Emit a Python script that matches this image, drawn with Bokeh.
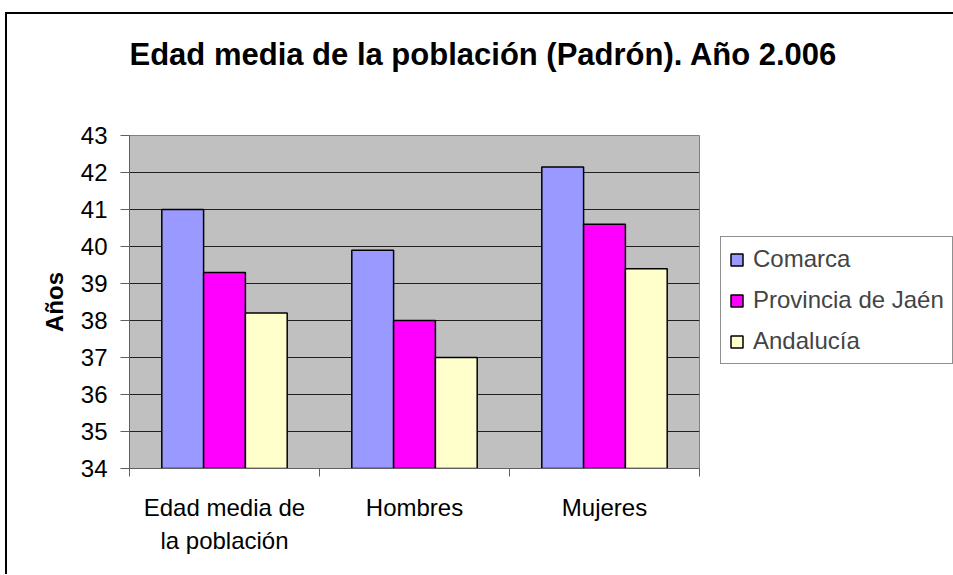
from bokeh.plotting import figure
from bokeh.models import (Range1d, FixedTicker, Legend, LegendItem, Title, ColumnDataSource)
from bokeh.transform import dodge
from bokeh.embed import file_html
from bokeh.resources import INLINE

categories = ["Edad media de\nla población", "Hombres", "Mujeres"]
series_names = ["Comarca", "Provincia de Jaén", "Andalucía"]
comarca = [41.0, 39.9, 42.15]
provincia = [39.3, 38.0, 40.6]
andalucia = [38.2, 37.0, 39.4]
colors = ["#9999FF", "#FF00FF", "#FFFFCC"]
y_ticks = [34, 35, 36, 37, 38, 39, 40, 41, 42, 43]
title_text = "Edad media de la población (Padrón). Año 2.006"
y_label = "Años"

FONT = "Liberation Sans"

centers = [i + 0.5 for i in range(len(categories))]
bounds = [float(i) for i in range(len(categories) + 1)]
src = ColumnDataSource(dict(x=centers, comarca=comarca, provincia=provincia, andalucia=andalucia))

p = figure(frame_width=570, frame_height=333, output_backend="svg", toolbar_location=None,
           x_range=Range1d(0, 3), y_range=Range1d(34, 43),
           min_border_left=122, min_border_right=253, min_border_top=121, min_border_bottom=106,
           background_fill_color="#C0C0C0", border_fill_color="white")
p.styles = {"margin-left": "5px", "margin-top": "12px",
            "border-top": "2px solid black", "border-left": "2px solid black"}
p.outline_line_color = "#808080"
p.outline_line_width = 1

bw = 0.22
offsets = [-bw, 0.0, bw]
fields = ["comarca", "provincia", "andalucia"]
renderers = []
for f, off, c in zip(fields, offsets, colors):
    r = p.vbar(x=dodge("x", off, range=p.x_range), top=f, bottom=34, width=bw, source=src,
               fill_color=c, line_color="black", line_width=1.5)
    renderers.append(r)

# y axis
p.yaxis.ticker = FixedTicker(ticks=y_ticks)
p.yaxis.axis_label = y_label
p.yaxis.axis_label_text_font = FONT
p.yaxis.axis_label_text_font_style = "bold"
p.yaxis.axis_label_text_font_size = "24px"
p.yaxis.axis_label_text_color = "black"
p.yaxis.axis_label_standoff = 10
p.yaxis.major_label_text_font = FONT
p.yaxis.major_label_text_font_size = "24px"
p.yaxis.major_label_text_color = "black"
p.yaxis.major_tick_out = 9
p.yaxis.major_tick_in = 0
p.yaxis.minor_tick_out = 0
p.yaxis.minor_tick_in = 0
p.yaxis.major_label_standoff = 13
p.yaxis.axis_line_color = "#606060"
p.yaxis.major_tick_line_color = "#606060"

p.ygrid.ticker = FixedTicker(ticks=y_ticks)
p.ygrid.grid_line_color = "#202020"
p.ygrid.grid_line_width = 1
p.xgrid.grid_line_color = None

# x axis
p.xaxis.ticker = FixedTicker(ticks=centers, minor_ticks=bounds)
p.xaxis.major_label_overrides = {c: lab for c, lab in zip(centers, categories)}
p.xaxis.major_label_text_font = FONT
p.xaxis.major_label_text_font_size = "24px"
p.xaxis.major_label_text_color = "black"
p.xaxis.major_label_text_line_height = 1.25
p.xaxis.major_tick_out = 0
p.xaxis.major_tick_in = 0
p.xaxis.minor_tick_out = 8
p.xaxis.minor_tick_in = 0
p.xaxis.major_label_standoff = 17
p.xaxis.axis_line_color = "#606060"
p.xaxis.minor_tick_line_color = "#606060"

# spacer between frame and title (closest to the frame), then the title
spacer = Title(text=" ", text_font=FONT, text_font_size="10px")
title = Title(text=title_text, text_font=FONT, text_font_style="bold",
              text_font_size="31px", align="left", offset=0, text_color="black",
              vertical_align="bottom")
if "standoff" in Title.properties():
    spacer.standoff = 46
    title.standoff = 10
p.add_layout(spacer, "above")
p.add_layout(title, "above")

legend = Legend(items=[LegendItem(label=n, renderers=[r]) for n, r in zip(series_names, renderers)],
                location=(21, 104), orientation="vertical",
                label_text_font=FONT, label_text_font_size="24px",
                glyph_width=15, glyph_height=15, label_height=28, label_standoff=9,
                spacing=13, padding=8, margin=0,
                border_line_color="#202020", border_line_width=1,
                background_fill_color="white", background_fill_alpha=1.0)
p.add_layout(legend, "right")

open("out.html", "w").write(file_html(p, INLINE))
